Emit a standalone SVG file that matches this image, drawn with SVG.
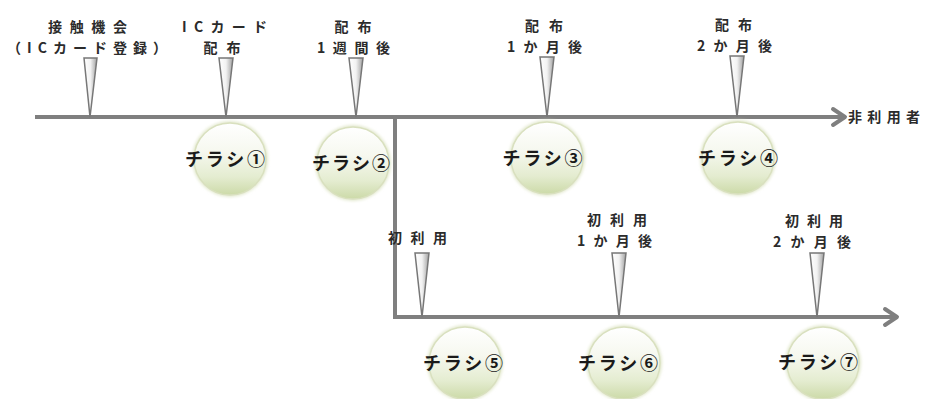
<svg xmlns="http://www.w3.org/2000/svg" width="925" height="399" viewBox="0 0 925 399">
<defs>
<linearGradient id="tri" x1="0" y1="0" x2="1" y2="0">
<stop offset="0" stop-color="#ffffff"/>
<stop offset="0.5" stop-color="#f2f2f2"/>
<stop offset="1" stop-color="#a0a0a0"/>
</linearGradient>
<linearGradient id="ball" x1="0" y1="0" x2="0" y2="1">
<stop offset="0" stop-color="#ffffff"/>
<stop offset="0.4" stop-color="#f6f8ef"/>
<stop offset="0.75" stop-color="#e4ecd0"/>
<stop offset="1" stop-color="#ccdaa8"/>
</linearGradient>
<filter id="glow" x="-20%" y="-20%" width="140%" height="140%">
<feGaussianBlur stdDeviation="1.5"/>
</filter>
</defs>
<style>
.t{font-family:"Noto Sans CJK JP","Noto Sans",sans-serif;font-size:14px;fill:#2b2b2b;font-weight:700;text-anchor:middle}
.c{font-family:"Noto Sans CJK JP","Noto Sans",sans-serif;font-size:18px;fill:#1a1a1a;font-weight:700;text-anchor:middle}
.ln{stroke:#7f7f7f;stroke-width:4;fill:none}
.ah{stroke:#7f7f7f;stroke-width:4;fill:none;stroke-linecap:round;stroke-linejoin:round}
.tr{fill:url(#tri);stroke:#777777;stroke-width:1.5}
.b{fill:url(#ball);stroke:#d9e0bf;stroke-width:1.5}
.bg{fill:#e3e9cf;filter:url(#glow)}
</style>
<g id="connectors">
<path class="ln" d="M35 117H843"/>
<path class="ah" d="M833 109L845 117L833 125"/>
<path class="ln" d="M395 117V317H895"/>
<path class="ah" d="M885 309L897 317L885 325"/>
</g>
<g id="m1"><path class="tr" d="M84 58H97L90 117Z"/><text class="t" x="87.5" y="32" textLength="79" lengthAdjust="spacing">接触機会</text><text class="t" x="87" y="53" textLength="160" lengthAdjust="spacing">（ICカード登録）</text></g>
<g id="m2"><path class="tr" d="M219 58H233L226 117Z"/><text class="t" x="224.5" y="32" textLength="85" lengthAdjust="spacing">ICカード</text><text class="t" x="222" y="53" textLength="37" lengthAdjust="spacing">配布</text></g>
<g id="m3"><path class="tr" d="M349 58H363L356 117Z"/><text class="t" x="353" y="32" textLength="37" lengthAdjust="spacing">配布</text><text class="t" x="353.5" y="53" textLength="73" lengthAdjust="spacing">1週間後</text></g>
<g id="m4"><path class="tr" d="M540 57H554L547 117Z"/><text class="t" x="544" y="31" textLength="38" lengthAdjust="spacing">配布</text><text class="t" x="544.5" y="52" textLength="75" lengthAdjust="spacing">1か月後</text></g>
<g id="m5"><path class="tr" d="M730 56H744L737 117Z"/><text class="t" x="733.5" y="30" textLength="37" lengthAdjust="spacing">配布</text><text class="t" x="734.5" y="51" textLength="75" lengthAdjust="spacing">2か月後</text></g>
<g id="m6"><path class="tr" d="M415 253H429L422 317Z"/><text class="t" x="417.5" y="243" textLength="59" lengthAdjust="spacing">初利用</text></g>
<g id="m7"><path class="tr" d="M612 253H626L619 317Z"/><text class="t" x="617" y="225" textLength="60" lengthAdjust="spacing">初利用</text><text class="t" x="614.5" y="246" textLength="75" lengthAdjust="spacing">1か月後</text></g>
<g id="m8"><path class="tr" d="M810 253H824L817 317Z"/><text class="t" x="814" y="226" textLength="58" lengthAdjust="spacing">初利用</text><text class="t" x="812" y="247" textLength="78" lengthAdjust="spacing">2か月後</text></g>
<g id="end1"><text class="t" x="884" y="122" textLength="72" lengthAdjust="spacing">非利用者</text></g>
<g id="f1"><circle class="bg" cx="230" cy="159" r="38"/><circle class="b" cx="230" cy="159" r="36"/><text class="c" x="225" y="166" textLength="80" lengthAdjust="spacing">チラシ①</text></g>
<g id="f2"><circle class="bg" cx="353" cy="163" r="38"/><circle class="b" cx="353" cy="163" r="36"/><text class="c" x="351" y="170" textLength="78" lengthAdjust="spacing">チラシ②</text></g>
<g id="f3"><circle class="bg" cx="547" cy="158" r="38"/><circle class="b" cx="547" cy="158" r="36"/><text class="c" x="542.5" y="165" textLength="80" lengthAdjust="spacing">チラシ③</text></g>
<g id="f4"><circle class="bg" cx="738" cy="158" r="38"/><circle class="b" cx="738" cy="158" r="36"/><text class="c" x="738" y="165" textLength="80" lengthAdjust="spacing">チラシ④</text></g>
<g id="f5"><circle class="bg" cx="465" cy="363" r="38"/><circle class="b" cx="465" cy="363" r="36"/><text class="c" x="463" y="370" textLength="80" lengthAdjust="spacing">チラシ⑤</text></g>
<g id="f6"><circle class="bg" cx="624" cy="363" r="38"/><circle class="b" cx="624" cy="363" r="36"/><text class="c" x="618" y="370" textLength="80" lengthAdjust="spacing">チラシ⑥</text></g>
<g id="f7"><circle class="bg" cx="823" cy="363" r="38"/><circle class="b" cx="823" cy="363" r="36"/><text class="c" x="818" y="369" textLength="80" lengthAdjust="spacing">チラシ⑦</text></g>
</svg>
